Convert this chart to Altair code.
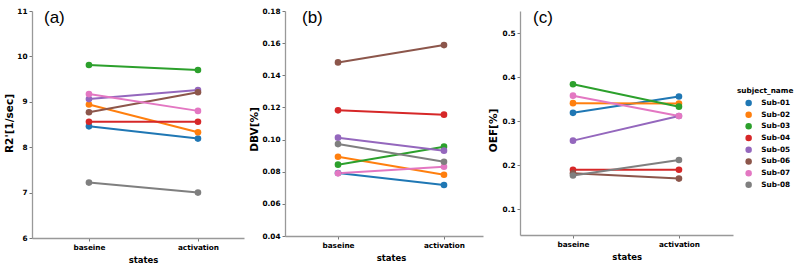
import altair as alt
import pandas as pd

subjects = ["Sub-01", "Sub-02", "Sub-03", "Sub-04", "Sub-05", "Sub-06", "Sub-07", "Sub-08"]
states = ["baseine", "activation"]
palette = ["#1f77b4", "#ff7f0e", "#2ca02c", "#d62728", "#9467bd", "#8c564b", "#e377c2", "#7f7f7f"]

r2_base = [8.46, 8.94, 9.81, 8.56, 9.06, 8.77, 9.17, 7.22]
r2_act = [8.19, 8.33, 9.70, 8.56, 9.26, 9.21, 8.80, 7.00]
dbv_base = [0.0792, 0.0893, 0.0844, 0.1182, 0.1012, 0.1480, 0.0790, 0.0972]
dbv_act = [0.0717, 0.0781, 0.0956, 0.1155, 0.0931, 0.1588, 0.0831, 0.0862]
oef_base = [0.319, 0.341, 0.384, 0.190, 0.256, 0.182, 0.358, 0.177]
oef_act = [0.356, 0.340, 0.333, 0.190, 0.312, 0.170, 0.312, 0.212]

panel_labels = ["(a)", "(b)", "(c)"]
y_titles = ["R2'[1/sec]", "DBV[%]", "OEF[%]"]

rows = []
for i, s in enumerate(subjects):
    rows.append({"subject_name": s, "states": states[0], "r2": r2_base[i], "dbv": dbv_base[i], "oef": oef_base[i]})
    rows.append({"subject_name": s, "states": states[1], "r2": r2_act[i], "dbv": dbv_act[i], "oef": oef_act[i]})
df = pd.DataFrame(rows)

FONT = "DejaVu Sans"


def panel(field, ytitle, domain, ticks, fmt, w, h, xpad, xalign, xtitle_x, ytitle_x, ytitle_y,
          label, label_x, legend):
    x = alt.X("states:N", sort=states,
              scale=alt.Scale(type="point", padding=xpad, align=xalign),
              axis=alt.Axis(title="states", labelAngle=0, titleX=xtitle_x, titleAlign="center",
                            labelPadding=2.5, titlePadding=5))
    y = alt.Y(f"{field}:Q", scale=alt.Scale(domain=domain, nice=False, zero=False),
              axis=alt.Axis(values=ticks, format=fmt, title=ytitle, titleX=ytitle_x, titleY=ytitle_y,
                            titleAngle=270, titleAlign="center", titleBaseline="middle",
                            titleFontSize=10.5, labelPadding=2))
    if legend:
        leg = alt.Legend(title="subject_name", orient="none", legendX=217, legendY=76,
                         symbolType="circle", symbolSize=42, symbolStrokeWidth=0,
                         symbolOffset=8, labelOffset=9, rowPadding=3.7, titlePadding=5,
                         titleFont=FONT, titleFontSize=7.3, titleFontWeight="bold",
                         labelFont=FONT, labelFontSize=7.3, labelFontWeight="bold",
                         labelColor="#000", titleColor="#000")
    else:
        leg = None
    col = alt.Color("subject_name:N", scale=alt.Scale(domain=subjects, range=palette), legend=leg)
    line = alt.Chart(df).mark_line(strokeWidth=2).encode(x=x, y=y, color=col)
    pts = alt.Chart(df).mark_circle(size=44, opacity=1).encode(x=x, y=y, color=col)
    txt = alt.Chart(pd.DataFrame({"t": [label]})).mark_text(
        font="Liberation Sans", fontSize=17, align="left", baseline="alphabetic", color="#000"
    ).encode(x=alt.value(label_x), y=alt.value(11.5), text="t:N")
    return alt.layer(line, pts, txt).properties(width=w, height=h)


pa = panel("r2", y_titles[0], [6, 11], [6, 7, 8, 9, 10, 11], "d", 212, 227, 0.4725, 0.553,
           111, -22.7, 112, panel_labels[0], 12, False)
pb = panel("dbv", y_titles[1], [0.04, 0.18], [0.04, 0.06, 0.08, 0.10, 0.12, 0.14, 0.16, 0.18], ".2f",
           198, 225, 0.434, 0.576, 106, -31, 118, panel_labels[1], 17, False)
pc = panel("oef", y_titles[2], [0.042, 0.55], [0.1, 0.2, 0.3, 0.4, 0.5], ".1f",
           213, 224, 0.505, 0.495, 106.7, -26.3, 119, panel_labels[2], 13, True)

chart = alt.hconcat(pa, pb, pc, spacing=5).resolve_legend(color="independent").properties(
    padding={"left": 4, "top": 7, "right": 0, "bottom": 0},
    background="white",
).configure_view(stroke=None).configure_axis(
    grid=False,
    labelFont=FONT, labelFontSize=7.3, labelFontWeight="bold", labelColor="#000",
    titleFont=FONT, titleFontSize=8.5, titleFontWeight="bold", titleColor="#000",
    domainColor="#999999", domainWidth=1.3,
    tickColor="#555555", tickSize=3, tickWidth=0.8,
)

chart.save("out.html", embed_options={"renderer": "svg", "actions": False})
